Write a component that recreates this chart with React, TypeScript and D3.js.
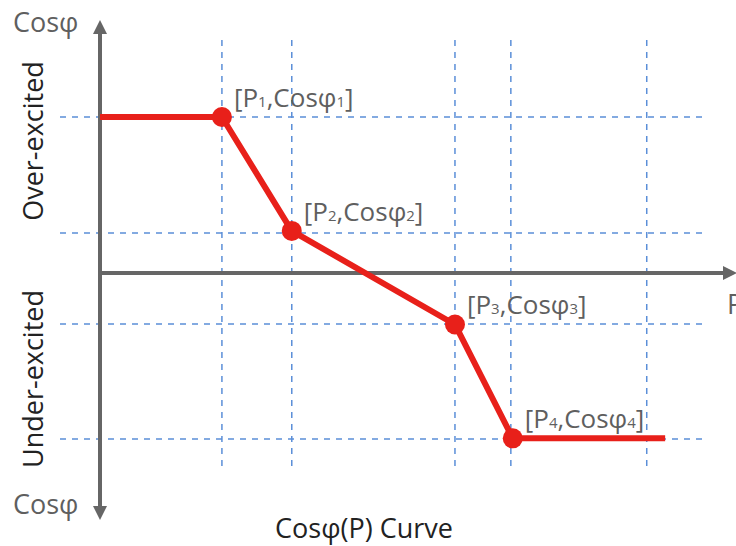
import React from "react";
import * as d3 from "d3";

// Curve points (abstract units): P along x, cosφ along y (positive = over-excited)
const pointNames = ["1", "2", "3", "4"];
const pointP = [19.2, 30.2, 55.9, 65.0];
const pointCos = [1.0, 0.27, -0.33, -1.06];
const startP = 0;
const endP = 89.0;
// Dashed grid positions
const gridP = [19.2, 30.2, 55.9, 64.7, 86.1];
const gridCos = [1.0, 0.256, -0.327, -1.064];

const W = 736;
const H = 546;
const FONT = "'Open Sans', 'DejaVu Sans', sans-serif";

export default function App() {
  const x = d3.scaleLinear().domain([0, 100]).range([100, 735]);
  const y = d3.scaleLinear().domain([0, 1]).range([273, 117]);

  const linePts: [number, number][] = [
    [startP, pointCos[0]],
    ...pointP.map((p, i) => [p, pointCos[i]] as [number, number]),
    [endP, pointCos[3]],
  ];
  const line = d3
    .line<[number, number]>()
    .x((d) => x(d[0]))
    .y((d) => y(d[1]));

  const gridColor = "#5b8fd8";
  const axisColor = "#666666";
  const red = "#e8201a";

  const label = (n: string) => (
    <>
      <tspan>[P</tspan>
      <tspan fontSize={15}>{n}</tspan>
      <tspan>,Cosφ</tspan>
      <tspan fontSize={15}>{n}</tspan>
      <tspan>]</tspan>
    </>
  );

  return (
    <svg
      width={W}
      height={H}
      style={{ position: "absolute", left: 0, top: 0, background: "#fff" }}
    >
      {/* grid */}
      {gridCos.map((c, i) => (
        <line
          key={"h" + i}
          x1={60}
          x2={706}
          y1={y(c)}
          y2={y(c)}
          stroke={gridColor}
          strokeWidth={1.5}
          strokeDasharray="6,6"
        />
      ))}
      {gridP.map((p, i) => (
        <line
          key={"v" + i}
          x1={x(p)}
          x2={x(p)}
          y1={40}
          y2={470}
          stroke={gridColor}
          strokeWidth={1.5}
          strokeDasharray="6,6"
        />
      ))}
      {/* axes */}
      <line x1={100} x2={100} y1={32} y2={508} stroke={axisColor} strokeWidth={4} />
      <path d="M100,20 L93,34 L107,34 Z" fill={axisColor} />
      <path d="M100,520 L93,506 L107,506 Z" fill={axisColor} />
      <line x1={98} x2={724} y1={273} y2={273} stroke={axisColor} strokeWidth={4} />
      <path d="M737,273 L723,266 L723,280 Z" fill={axisColor} />

      {/* curve */}
      <path d={line(linePts) || ""} fill="none" stroke={red} strokeWidth={6} strokeLinejoin="round" />
      {pointP.map((p, i) => (
        <circle key={"c" + i} cx={x(p)} cy={y(pointCos[i])} r={10} fill={red} />
      ))}
      {pointP.map((p, i) => (
        <text
          key={"t" + i}
          x={x(p) + 12}
          y={y(pointCos[i]) - 10}
          fontFamily={FONT}
          fontSize={26}
          fill="#5f5f5f"
        >
          {label(pointNames[i])}
        </text>
      ))}

      {/* axis labels */}
      <text x={13} y={32} fontFamily={FONT} fontSize={27} fill="#5f5f5f">Cosφ</text>
      <text x={13} y={514} fontFamily={FONT} fontSize={27} fill="#5f5f5f">Cosφ</text>
      <text x={727} y={314} fontFamily={FONT} fontSize={27} fill="#5f5f5f">P</text>
      <text
        transform="translate(43,141) rotate(-90)"
        textAnchor="middle"
        fontFamily={FONT}
        fontSize={27}
        fill="#222"
      >
        Over-excited
      </text>
      <text
        transform="translate(43,379) rotate(-90)"
        textAnchor="middle"
        fontFamily={FONT}
        fontSize={27}
        fill="#222"
      >
        Under-excited
      </text>
      <text x={364} y={538} textAnchor="middle" fontFamily={FONT} fontSize={27} fill="#222">
        Cosφ(P) Curve
      </text>
    </svg>
  );
}
